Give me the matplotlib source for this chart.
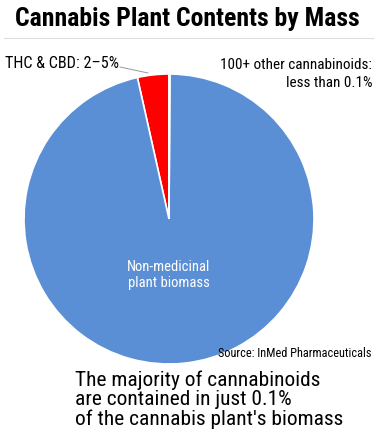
import matplotlib.pyplot as plt

plt.rcParams['font.family'] = ['Roboto Condensed', 'Liberation Sans', 'DejaVu Sans']

labels = ["THC & CBD", "Non-medicinal plant biomass", "100+ other cannabinoids"]
values = [3.5, 96.4, 0.1]
colors = ["#ff0000", "#5b8fd5", "#5b8fd5"]

fig = plt.figure(figsize=(3.77, 4.39), dpi=100)

ax = fig.add_axes([24/377, 74/439, 290/377, 290/439])
ax.pie(values, colors=colors, startangle=90, counterclock=True,
       wedgeprops=dict(edgecolor="white", linewidth=1.2))
ax.set_xlim(-1, 1)
ax.set_ylim(-1, 1)
ax.set_aspect("equal")
ax.axis("off")

fig.text(187/377, 1 - 19/439, "Cannabis Plant Contents by Mass", ha="center", va="center",
         fontsize=18.5, fontweight="bold")
fig.add_artist(plt.Line2D([0.01, 0.99], [1 - 39/439] * 2, color="#dddddd", lw=0.8))

fig.text(5/377, 1 - 63/439, "THC & CBD: 2\u20135%", ha="left", va="center", fontsize=11.6)
fig.add_artist(plt.Line2D([120/377, 148/377], [1 - 68/439, 1 - 74/439],
                          color="#999999", lw=0.7))
fig.text(372/377, 1 - 74/439, "100+ other cannabinoids:\nless than 0.1%", ha="right",
         va="center", fontsize=10.9, linespacing=1.3)

fig.text(169/377, 1 - 275/439, "Non-medicinal\nplant biomass", ha="center", va="center",
         fontsize=10.5, color="white", linespacing=1.2)
fig.text(372/377, 1 - 354/439, "Source: InMed Pharmaceuticals", ha="right", va="center",
         fontsize=8.8)
fig.text(75/377, 1 - 400/439,
         "The majority of cannabinoids\nare contained in just 0.1%\nof the cannabis plant's biomass",
         ha="left", va="center", fontsize=15.4, linespacing=1.0)

fig.savefig("out.png", dpi=100)
